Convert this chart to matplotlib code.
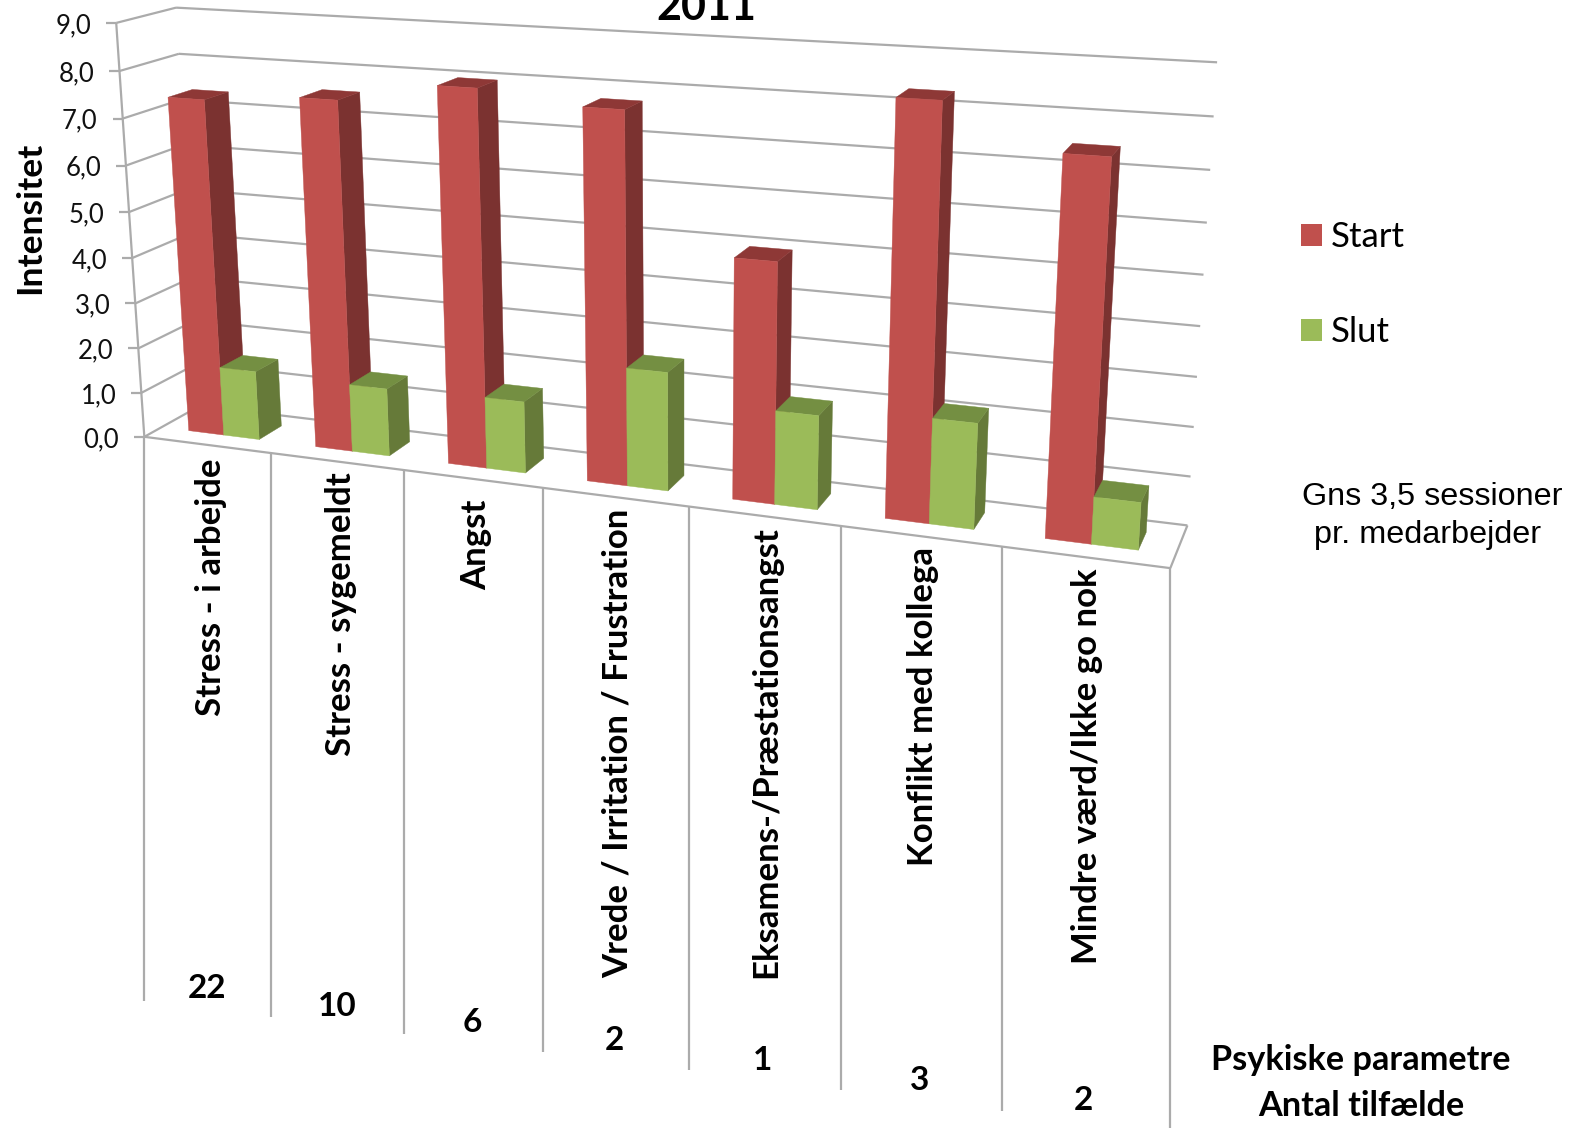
import numpy as np
import matplotlib
matplotlib.use("Agg")
import matplotlib.pyplot as plt
from matplotlib.patches import Polygon, Rectangle

categories = ["Stress - i arbejde", "Stress - sygemeldt", "Angst", "Vrede / Irritation / Frustration",
              "Eksamens-/Præstationsangst", "Konflikt med kollega", "Mindre værd/Ikke go nok"]
start_vals = [7.37, 7.55, 7.98, 7.74, 4.97, 8.3, 7.46]
slut_vals = [1.53, 1.48, 1.54, 2.5, 1.95, 2.15, 0.95]
counts = ["22", "10", "6", "2", "1", "3", "2"]
z_ticks = [0, 1, 2, 3, 4, 5, 6, 7, 8, 9]

W, H = 1574, 1128
fig = plt.figure(figsize=(W/100, H/100), dpi=100)
ax = fig.add_axes([0, 0, 1, 1])
ax.set_xlim(0, W); ax.set_ylim(H, 0); ax.axis("off")

# camera: fit a projective map (u along categories, d depth, z value) -> picture
cal = [((0,0,0),(145,436)),((0,0,9),(117,22)),((0,0,4),(131,259)),
       ((0,1,0),(200,406)),((0,1,9),(176,8)),
       ((1,0,0),(1170,569)),((1,1,0),(1188,524)),((1,1,9),(1217,62)),((1,1,4),(1200,327))]
A, b = [], []
for (u,d,z),(x,y) in cal:
    A.append([u,d,z,1,0,0,0,0,-x*u,-x*d,-x*z]); b.append(x)
    A.append([0,0,0,0,u,d,z,1,-y*u,-y*d,-y*z]); b.append(y)
p = np.linalg.lstsq(np.array(A,float), np.array(b,float), rcond=None)[0]
P = np.append(p, 1).reshape(3, 4)
def proj(u, d, z):
    v = P @ np.array([u, d, z, 1.0])
    return v[0]/v[2], v[1]/v[2]

GRID = "#ABABAB"
def seg(a, b, lw=1.6, c=GRID):
    ax.plot([a[0], b[0]], [a[1], b[1]], color=c, lw=lw, solid_capstyle="butt", zorder=1)

for z in z_ticks:
    seg(proj(0,0,z), proj(0,1,z))
    seg(proj(0,1,z), proj(1,1,z))
    t = proj(0,0,z)
    seg((t[0]-10, t[1]), t)
    ax.text(t[0]-25, t[1]+2.5, f"{z},0", ha="right", va="center", family="Lato", fontsize=18.5, color="#111111")
seg(proj(0,0,0), proj(0,0,9))
seg(proj(0,0,0), proj(1,0,0))
seg(proj(1,0,0), proj(1,1,0))

n = len(categories)
for i in range(n+1):
    t = proj(i/n, 0, 0)
    seg(t, (t[0], t[1]+564))

D0, D1 = 0.30, 0.72
def box(u0, u1, val, cf, cs, ct, zo):
    def face(pts, c):
        ax.add_patch(Polygon([proj(*q) for q in pts], closed=True, fc=c, ec=c, lw=0.3, zorder=zo))
    face([(u1,D0,0),(u1,D1,0),(u1,D1,val),(u1,D0,val)], cs)
    face([(u0,D0,val),(u1,D0,val),(u1,D1,val),(u0,D1,val)], ct)
    face([(u0,D0,0),(u1,D0,0),(u1,D0,val),(u0,D0,val)], cf)

for i in range(n):
    w = 1/n
    a, m, e = (i+0.22)*w, (i+0.50)*w, (i+0.78)*w
    box(a, m, start_vals[i], "#C0504D", "#7B3230", "#8E3836", 3+2*i)
    box(m, e, slut_vals[i], "#9BBB59", "#667A39", "#748F42", 4+2*i)

label_x = [211, 341, 476, 618, 766, 923, 1087]
label_y = [587, 614, 545, 743, 752, 707, 766]
for s, x, y in zip(categories, label_x, label_y):
    ax.text(x, y, s, rotation=90, ha="center", va="center", family="Lato", fontweight="bold", fontsize=25, color="black")
count_x = [207, 337, 472, 614, 763, 920, 1083]
count_y = [989, 1006, 1022, 1040, 1060, 1080, 1100]
for s, x, y in zip(counts, count_x, count_y):
    ax.text(x, y, s, ha="center", va="center", family="Lato", fontweight="bold", fontsize=24)

ax.text(706, 7, "2011", ha="center", va="center", family="Lato", fontweight="bold", fontsize=31)
ax.text(30, 218, "Intensitet", rotation=90, ha="center", va="center", family="Lato", fontweight="bold", fontsize=25.5)
ax.text(1361, 1060, "Psykiske parametre", ha="center", va="center", family="Lato", fontweight="bold", fontsize=24.7)
ax.text(1361, 1106, "Antal tilfælde", ha="center", va="center", family="Lato", fontweight="bold", fontsize=24.7)

ax.add_patch(Rectangle((1301, 224), 21, 22, fc="#C0504D", ec="none"))
ax.add_patch(Rectangle((1301, 319), 21, 22, fc="#9BBB59", ec="none"))
ax.text(1331, 237, "Start", va="center", family="Lato", fontsize=25)
ax.text(1331, 332, "Slut", va="center", family="Lato", fontsize=25)
ax.text(1302, 497, "Gns 3,5 sessioner", va="center", family="Liberation Sans", fontsize=23.3)
ax.text(1314, 535, "pr. medarbejder", va="center", family="Liberation Sans", fontsize=23.3)

fig.savefig("out.png", dpi=100)
